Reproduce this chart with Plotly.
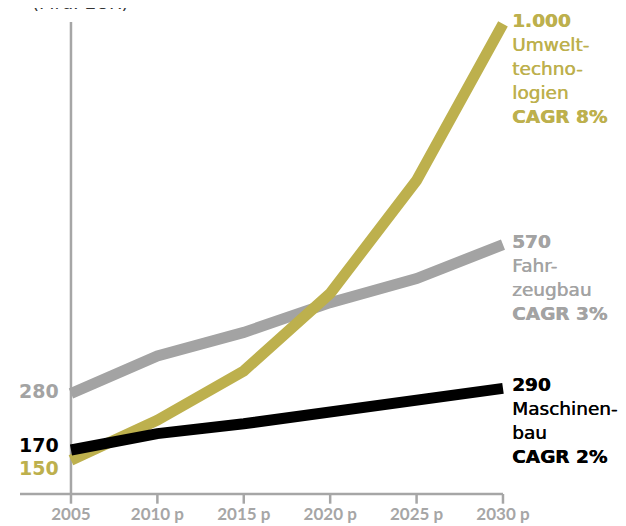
import plotly.graph_objects as go

years = [2005, 2010, 2015, 2020, 2025, 2030]
tick_labels = ["2005", "2010 p", "2015 p", "2020 p", "2025 p", "2030 p"]
umwelt = [150, 228, 324, 475, 695, 1000]
fahrzeug = [280, 353, 399, 457, 504, 570]
maschinen = [170, 202, 221, 243, 268, 290]

unit_label = "(Mrd. EUR)"
labels_end = {
    "umwelt": "<b>1.000</b><br>Umwelt-<br>techno-<br>logien<br><b>CAGR 8%</b>",
    "fahrzeug": "<b>570</b><br>Fahr-<br>zeugbau<br><b>CAGR 3%</b>",
    "maschinen": "<b>290</b><br>Maschinen-<br>bau<br><b>CAGR 2%</b>",
}

GREEN = "#bdb04d"
GRAY = "#a3a3a3"
BLACK = "#000000"
AXIS = "#a6a6a6"
FONT = "DejaVu Sans"

X_RANGE = [2002.05, 2030.58]
Y_RANGE = [84.3, 1027]


def xp(v):
    return (v - X_RANGE[0]) / (X_RANGE[1] - X_RANGE[0])


fig = go.Figure()
for vals, col in [(fahrzeug, GRAY), (umwelt, GREEN), (maschinen, BLACK)]:
    fig.add_trace(go.Scatter(x=years, y=vals, mode="lines",
                             line=dict(color=col, width=11), hoverinfo="skip"))

# axis lines as shapes (paper coords so they are not clipped)
fig.add_shape(type="line", xref="paper", yref="paper", x0=0, x1=xp(years[-1]), y0=0, y1=0,
              line=dict(color=AXIS, width=2.5), layer="below")
fig.add_shape(type="line", xref="paper", yref="paper", x0=xp(years[0]), x1=xp(years[0]),
              y0=0, y1=0.975, line=dict(color=AXIS, width=2.5), layer="below")
for yr in years:
    fig.add_shape(type="line", xref="paper", yref="paper", x0=xp(yr), x1=xp(yr),
                  y0=0, y1=-0.02, line=dict(color=AXIS, width=2.5))

# end labels
for key, val, col in [("umwelt", umwelt[-1], GREEN), ("fahrzeug", fahrzeug[-1], GRAY),
                      ("maschinen", maschinen[-1], BLACK)]:
    fig.add_annotation(x=2030, y=val, text=labels_end[key], showarrow=False,
                       xanchor="left", yanchor="top", align="left", xshift=7, yshift=16,
                       font=dict(family=FONT, size=18.5, color=col,
                                 shadow=f"0.5px 0px 0px {col}"))

# start labels
for val, col, ys in [(fahrzeug[0], GRAY, 3), (maschinen[0], BLACK, 5), (umwelt[0], GREEN, -8)]:
    fig.add_annotation(x=2005, y=val, text=f"<b>{val}</b>", showarrow=False,
                       xanchor="right", yanchor="middle", xshift=-10, yshift=ys,
                       font=dict(family=FONT, size=19, color=col))

fig.add_annotation(x=0.02, y=1.0, xref="paper", yref="paper", text=unit_label,
                   showarrow=False, xanchor="left", yanchor="bottom", yshift=-5,
                   font=dict(family=FONT, size=18, color="#333333"))

fig.update_layout(
    width=618, height=518,
    margin=dict(l=12, r=113, t=2, b=28),
    paper_bgcolor="white", plot_bgcolor="white",
    showlegend=False,
    xaxis=dict(range=X_RANGE, tickvals=years, ticktext=tick_labels,
               showgrid=False, zeroline=False, showline=False, ticks="",
               ticklabelstandoff=8,
               tickfont=dict(family="Lato", size=17, color=AXIS, weight="bold")),
    yaxis=dict(range=Y_RANGE, visible=False, showgrid=False, zeroline=False),
)

fig.write_html("out.html")
